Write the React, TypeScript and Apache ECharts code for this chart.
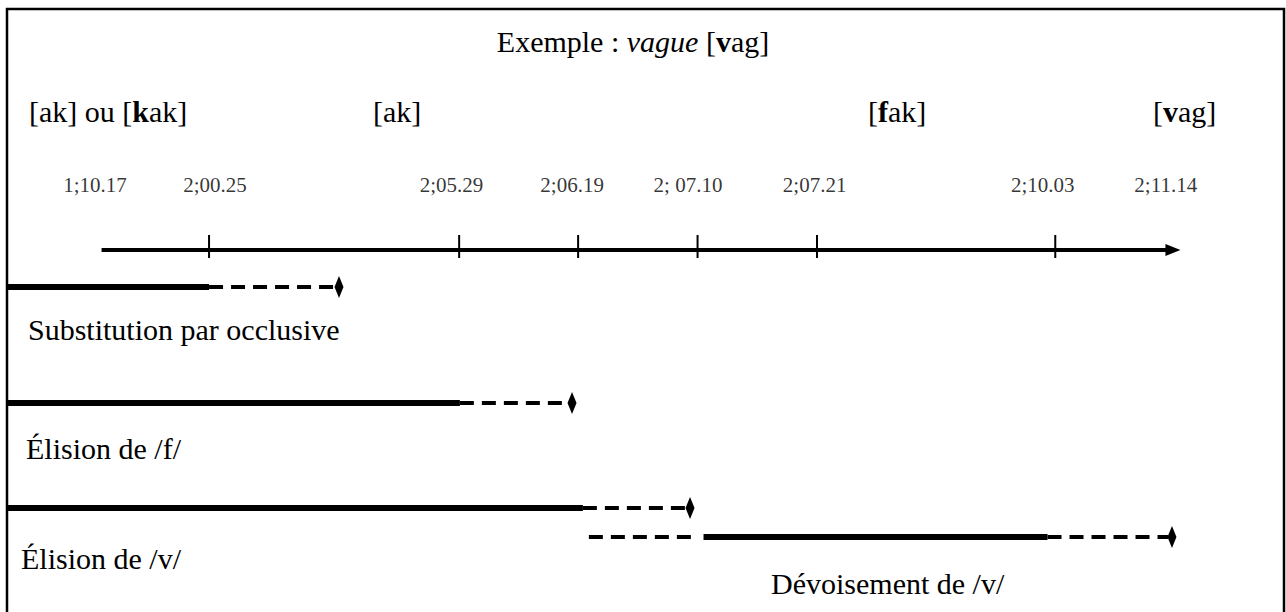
import React, { useEffect, useRef } from "react";
import * as echarts from "echarts";

// ---- Data (schematic timeline units) ----
const dateLabels = ["1;10.17", "2;00.25", "2;05.29", "2;06.19", "2; 07.10", "2;07.21", "2;10.03", "2;11.14"];
const dateLabelPos = [0.045, 1.05, 3.03, 4.04, 5.01, 6.07, 7.98, 9.01];
const tickPos = [1.0, 3.094, 4.09, 5.09, 6.09, 8.085];
const axisStart = 0.1;
const axisEnd = 9.07;

const phonLabels = ["{n|[ak] ou [}{b|k}{n|ak]}", "{n|[ak]}", "{n|[}{b|f}{n|ak]}", "{n|[}{b|v}{n|ag]}"];

const rowNames = ["Substitution par occlusive", "Élision de /f/", "Élision de /v/", "Dévoisement de /v/"];
const rowSolid: number[][][] = [
  [[-0.7, 1.0]],
  [[-0.7, 3.1]],
  [[-0.7, 4.13]],
  [[5.14, 8.02]],
];
const rowDashed: number[][][] = [
  [[1.0, 2.06]],
  [[3.1, 4.01]],
  [[4.13, 5.0]],
  [[4.18, 5.035], [8.02, 9.03]],
];
const rowEnd = [2.088, 4.039, 5.027, 9.062];

// ---- Layout ----
const FONT = "'Liberation Serif', 'Times New Roman', serif";
const FS = 30;
const AXIS_Y = 250;
const TICK_TOP = 235;
const TICK_BOTTOM = 258;
const DATE_Y = 185;
const ROW_Y = [287, 403, 508, 537];
const PHON_X = [29, 373, 868, 1153];
const PHON_Y = 111;
const ROW_TEXT = [
  { x: 28, y: 329 },
  { x: 26, y: 448 },
  { x: 21, y: 558 },
  { x: 771, y: 583 },
];

export default function App() {
  const ref = useRef<HTMLDivElement>(null);
  useEffect(() => {
    if (!ref.current) return;
    const chart = echarts.init(ref.current, undefined, { renderer: "svg" });

    const series: any[] = [];
    series.push({
      type: "line",
      data: [[axisStart, AXIS_Y], [axisEnd, AXIS_Y]],
      symbol: "none",
      lineStyle: { color: "#000", width: 4 },
      silent: true,
    });
    series.push({
      type: "scatter",
      data: [[axisEnd, AXIS_Y]],
      symbol: "triangle",
      symbolRotate: -90,
      symbolSize: [12, 15],
      itemStyle: { color: "#000", opacity: 1 },
      silent: true,
    });
    tickPos.forEach((p) => {
      series.push({
        type: "line",
        data: [[p, TICK_TOP], [p, TICK_BOTTOM]],
        symbol: "none",
        lineStyle: { color: "#000", width: 2 },
        silent: true,
      });
    });
    series.push({
      type: "scatter",
      data: dateLabelPos.map((p) => [p, DATE_Y]),
      symbolSize: 1,
      itemStyle: { color: "rgba(0,0,0,0)" },
      label: {
        show: true,
        position: "inside",
        formatter: (prm: any) => dateLabels[prm.dataIndex],
        fontFamily: FONT,
        fontSize: 21,
        color: "#000",
        textBorderWidth: 0,
      },
      silent: true,
    });
    rowSolid.forEach((segs, r) => {
      segs.forEach((s) => {
        series.push({
          type: "line",
          data: [[s[0], ROW_Y[r]], [s[1], ROW_Y[r]]],
          symbol: "none",
          lineStyle: { color: "#000", width: 6, cap: "butt" },
          silent: true,
        });
      });
    });
    rowDashed.forEach((segs, r) => {
      segs.forEach((s) => {
        series.push({
          type: "line",
          data: [[s[0], ROW_Y[r]], [s[1], ROW_Y[r]]],
          symbol: "none",
          lineStyle: { color: "#000", width: 4, type: [14, 8], cap: "butt" },
          silent: true,
        });
      });
    });
    series.push({
      type: "scatter",
      data: rowEnd.map((p, r) => [p, ROW_Y[r]]),
      symbol: "diamond",
      symbolSize: [9, 22],
      itemStyle: { color: "#000", opacity: 1 },
      silent: true,
    });

    const big = { fontFamily: FONT, fontSize: FS, fill: "#000" };
    const rich = {
      n: { font: `normal normal ${FS}px ${FONT}`, fontFamily: FONT, fontSize: FS, fill: "#000" },
      b: { font: `normal bold ${FS}px ${FONT}`, fontFamily: FONT, fontSize: FS, fill: "#000", fontWeight: "bold" },
      i: { font: `italic normal ${FS}px ${FONT}`, fontFamily: FONT, fontSize: FS, fill: "#000", fontStyle: "italic" },
    };

    const graphics: any[] = [
      {
        type: "rect",
        shape: { x: 7, y: 9, width: 1277, height: 700 },
        style: { fill: "none", stroke: "#000", lineWidth: 2.5 },
        silent: true,
        z: 100,
      },
      {
        type: "text",
        x: 633,
        y: 41,
        style: {
          text: "{n|Exemple : }{i|vague}{n| [}{b|v}{n|ag]}",
          rich,
          ...big,
          align: "center",
          verticalAlign: "middle",
        },
      },
    ];
    phonLabels.forEach((t, i) => {
      graphics.push({
        type: "text",
        x: PHON_X[i],
        y: PHON_Y,
        style: { text: t, rich, ...big, align: "left", verticalAlign: "middle" },
      });
    });
    rowNames.forEach((t, i) => {
      graphics.push({
        type: "text",
        x: ROW_TEXT[i].x,
        y: ROW_TEXT[i].y,
        style: { text: t, ...big, align: "left", verticalAlign: "middle" },
      });
    });

    chart.setOption({
      animation: false,
      backgroundColor: "#fff",
      grid: { left: 6, right: 2, top: 0, bottom: 0 },
      xAxis: { type: "value", min: -0.7, max: 10.0, show: false },
      yAxis: { type: "value", min: 0, max: 612, inverse: true, show: false },
      series,
      graphic: graphics,
    });
    return () => chart.dispose();
  }, []);
  return (
    <div
      ref={ref}
      style={{ position: "absolute", left: 0, top: 0, width: 1286, height: 612, background: "#fff" }}
    />
  );
}
